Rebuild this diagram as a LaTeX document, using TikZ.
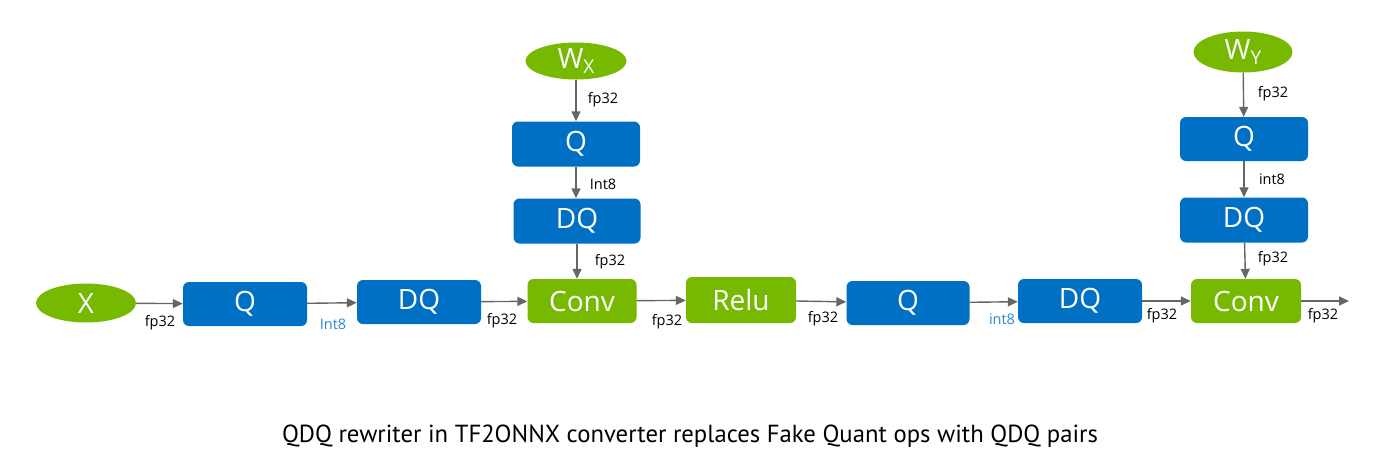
\documentclass[tikz,border=0pt]{standalone}
\usepackage{fontspec}
\setmainfont{Open Sans}
\newfontfamily\capfont{PT Sans}
\usetikzlibrary{shapes.geometric,arrows.meta}
\definecolor{nvgreen}{HTML}{76B900}
\definecolor{opblue}{HTML}{0070C4}
\definecolor{dtblue}{HTML}{2E86D0}
\definecolor{edgegray}{HTML}{666666}

\begin{document}
\begin{tikzpicture}[x=1pt, y=-1pt,
  op/.style={rectangle, rounded corners=6pt, fill=opblue, text=white, inner sep=0pt,
    minimum width=124pt, minimum height=44pt, font=\fontsize{28}{28}\selectfont},
  gop/.style={op, fill=nvgreen},
  tensor/.style={ellipse, fill=nvgreen, text=white, inner sep=0pt,
    minimum width=100pt, minimum height=39pt, font=\fontsize{28}{28}\selectfont},
  dtype/.style={font=\fontsize{14.5}{15}\selectfont, inner sep=0pt},
  flow/.style={draw=edgegray, line width=1.4pt, -{Triangle[length=10pt,width=9pt]}}]

\useasboundingbox (0,0) rectangle (1377,475);

% main chain
\node[tensor] (x) at (86,303) {X};
\node[op] (qa) at (245,304) {Q};
\node[op] (dqa) at (419,302) {DQ};
\node[gop, minimum width=109pt] (conva) at (582,301) {Conv};
\node[gop, minimum width=110pt, minimum height=46pt] (relu) at (741,300) {Relu};
\node[op, minimum width=123pt] (qb) at (908,303) {Q};
\node[op] (dqb) at (1080,301) {DQ};
\node[gop, minimum width=110pt] (convb) at (1246,301) {Conv};
\coordinate (out) at (1349,301);

% weight branches
\node[tensor, minimum width=101pt, minimum height=37pt] (wx) at (576,61) {W{\fontsize{19}{19}\selectfont\raisebox{-0.4ex}{X}}};
\node[op, minimum width=128pt, minimum height=45pt] (qx) at (576,144) {Q};
\node[op, minimum width=127pt, minimum height=45pt] (dqx) at (577,221) {DQ};
\node[tensor, minimum width=99pt, minimum height=41pt] (wy) at (1243,52) {W{\fontsize{19}{19}\selectfont\raisebox{-0.4ex}{Y}}};
\node[op, minimum width=128pt] (qy) at (1244,139) {Q};
\node[op, minimum width=128pt, minimum height=45pt] (dqy) at (1244,220) {DQ};

\draw[flow] (x) -- (qa);
\draw[flow] (qa) -- (dqa);
\draw[flow] (dqa) -- (conva);
\draw[flow] (conva) -- (relu);
\draw[flow] (relu) -- (qb);
\draw[flow] (qb) -- (dqb);
\draw[flow] (dqb) -- (convb);
\draw[flow] (convb) -- (out);

\draw[flow] (wx) -- (qx);
\draw[flow] (qx.south) -- (qx.south |- dqx.north);
\draw[flow] (dqx.south) -- (dqx.south |- conva.north);
\draw[flow] (wy) -- (qy);
\draw[flow] (qy) -- (dqy);
\draw[flow] (dqy) -- (convb);

% data types
\node[dtype] (t1) at (160,323) {fp32};
\node[dtype, text=dtblue] (t2) at (333,324) {Int8};
\node[dtype] (t3) at (502,321) {fp32};
\node[dtype] (t4) at (667,322) {fp32};
\node[dtype] (t5) at (823,319) {fp32};
\node[dtype, text=dtblue] (t6) at (1002,319) {int8};
\node[dtype] (t7) at (1162,316) {fp32};
\node[dtype] (t8) at (1323,316) {fp32};
\node[dtype] (t9) at (603,100) {fp32};
\node[dtype] (t10) at (603,184) {Int8};
\node[dtype] (t11) at (610,262) {fp32};
\node[dtype] (t12) at (1273,94) {fp32};
\node[dtype] (t13) at (1272,179) {int8};
\node[dtype] (t14) at (1273,259) {fp32};

\node[font=\capfont\fontsize{24.7}{25}\selectfont] (caption) at (690,436)
  {QDQ rewriter in TF2ONNX converter replaces Fake Quant ops with QDQ pairs};

\end{tikzpicture}
\end{document}
